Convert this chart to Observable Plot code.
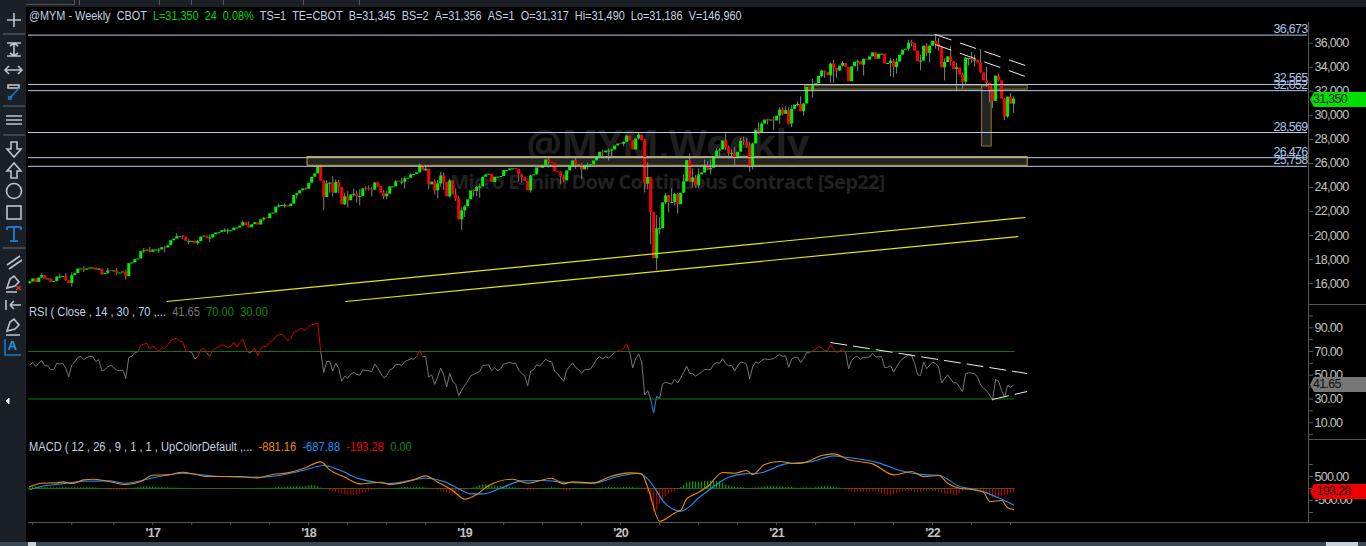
<!DOCTYPE html>
<html><head><meta charset="utf-8">
<script src="https://cdn.jsdelivr.net/npm/d3@7"></script>
<script src="https://cdn.jsdelivr.net/npm/@observablehq/plot@0.6"></script>
<style>
html,body{margin:0;padding:0;background:#000;width:1366px;height:546px;overflow:hidden}
body{position:relative;font-family:"Liberation Sans",sans-serif;font-size:12.5px}
.panel{position:absolute;left:0}
.panel svg{display:block;background:transparent!important}
.legend{position:absolute;left:29px;white-space:nowrap;display:flex;gap:7px;color:#c5d3e2;line-height:14px;transform-origin:left center;transform:scaleX(.888)}
.tag{position:absolute;left:1310px;width:56px;height:15px;line-height:15px;text-align:left;padding-left:3px;box-sizing:border-box;color:#111;letter-spacing:-.7px;clip-path:polygon(0 50%,4px 0,100% 0,100% 100%,4px 100%)}
.bar{position:absolute}
</style></head><body>
<div class="bar" style="left:0;top:0;width:1366px;height:7px;background:#1b2027"></div>
<div class="bar" style="left:4px;top:0;width:69px;height:4px;border:solid #555;border-width:0 1px 1px 1px"></div>
<div class="bar" style="left:79px;top:0;width:1px;height:5px;background:#555"></div>
<div class="bar" style="left:159px;top:0;width:1px;height:5px;background:#555"></div>
<div class="bar" style="left:191px;top:0;width:1px;height:5px;background:#555"></div>
<div class="bar" style="left:223px;top:0;width:1px;height:5px;background:#555"></div>
<div class="bar" style="left:303px;top:0;width:1px;height:5px;background:#555"></div>
<div class="bar" style="left:359px;top:0;width:1px;height:5px;background:#555"></div>
<div class="bar" style="left:0;top:0;width:26px;height:546px;background:#1b2027"></div>
<svg class="bar" style="left:0;top:0" width="26" height="420" fill="none" stroke="#bcc4cc" stroke-width="1.6">
<path d="M14 13V27M7 20H21"/><path d="M3 34H25" stroke="#4a525a"/>
<path d="M14 44V55M10 46L14 43L18 46M10 53L14 56L18 53M7 43H21M7 56H21"/>
<path d="M6 70H21M9 66L5 70L9 74M18 66L22 70L18 74"/>
<rect x="8" y="85" width="11" height="3"/><path d="M19 88L10 98" stroke="#1b79c4"/><circle cx="10" cy="98" r="1.5" stroke="#1b79c4"/>
<path d="M3 106H25M3 135H25" stroke="#4a525a"/><path d="M6 116H22M6 120H22M6 124H22"/>
<path d="M11 142H17V149H21L14 157L7 149H11Z"/><path d="M11 178H17V171H21L14 163L7 171H11Z"/>
<circle cx="14" cy="191" r="7.5"/><rect x="7" y="206" width="14" height="13"/>
<path d="M7 227H21M14 227V241M10 241H18M7 227V230M21 227V230" stroke="#1b79c4" stroke-width="2"/>
<path d="M3 248H25" stroke="#4a525a"/><path d="M7 265L20 256M9 269L22 260"/>
<path d="M7 288L10 279L14 276L19 282L15 286ZM6 292H17"/><path d="M16 286L21 290M21 286L16 290" stroke="#e03030"/>
<path d="M6 300V310M10 305H21M10 305L14 301M10 305L14 309"/>
<path d="M7 331L10 322L14 319L19 325L15 329ZM6 335H20"/>
<path d="M5 339V355H21" stroke="#1b79c4"/>
<path d="M6 401L9 398V404Z" fill="#fff" stroke="#fff" stroke-width="1"/>
</svg>
<div class="bar" style="left:5px;top:338px;width:15px;height:16px;color:#1b9be0;font-weight:bold;font-size:13px;line-height:16px;text-align:center">A</div>
<div class="bar" style="left:0;top:542px;width:1366px;height:4px;background:#3a4652"></div>
<div class="bar" style="left:28px;top:542px;width:8px;height:4px;background:#c8d0d8"></div>
<div class="bar" style="left:1326px;top:542px;width:32px;height:4px;background:#c8d0d8"></div>

<div id="price" class="panel" style="top:22px"></div>
<div id="rsi" class="panel" style="top:304px"></div>
<div id="macd" class="panel" style="top:439px"></div>

<div class="bar" style="left:1308px;top:304px;width:58px;height:1px;background:#555"></div>
<div class="bar" style="left:1308px;top:439px;width:58px;height:1px;background:#555"></div>
<div class="bar" style="left:1308px;top:522px;width:58px;height:1px;background:#555"></div>

<div class="legend" style="top:9px;transform:scaleX(.87)">
<span>@MYM - Weekly</span><span>CBOT</span><span style="color:#00d800">L=31,350</span><span style="color:#00d800">24</span><span style="color:#00d800">0.08%</span><span>TS=1</span><span>TE=CBOT</span><span>B=31,345</span><span>BS=2</span><span>A=31,356</span><span>AS=1</span><span>O=31,317</span><span>Hi=31,490</span><span>Lo=31,186</span><span>V=146,960</span>
</div>
<div class="legend" style="top:305px">
<span>RSI ( Close , 14 , 30 , 70 ,...</span><span style="color:#777">41.65</span><span style="color:#0a8a0a">70.00</span><span style="color:#0a8a0a">30.00</span>
</div>
<div class="legend" style="top:440px">
<span>MACD ( 12 , 26 , 9 , 1 , 1 , UpColorDefault ,...</span><span style="color:#f08a00">-881.16</span><span style="color:#1e90ff">-687.88</span><span style="color:#f00000">-193.28</span><span style="color:#0a8a0a">0.00</span>
</div>
<div class="tag" style="top:92px;background:#00e000">31,350</div>
<div class="tag" style="top:377px;background:#777">41.65</div>
<div class="tag" style="top:484px;background:#f00000">-193.28</div>

<script>
const closes = [
16140,16387,16083,16470,16664,16360,16387,16083,16166,16553,16553,16580,16249,16000,16664,16830,17217,17217,17106,17217,17300,17300,17106,17217,16747,16857,17051,17023,17051,16857,16885,16968,16580,17660,17715,17992,18047,18656,18739,18794,18600,18794,18794,18794,18988,18960,19154,19569,19707,19901,19901,19874,19514,19514,19514,19320,19486,19874,19956,19735,19790,20067,20205,20233,20399,20399,20399,20399,20620,20620,20786,21063,20814,20648,20897,21063,20870,
21308,21419,21391,21806,21862,22360,22470,22498,22498,22387,22609,23328,23466,23715,23881,23854,24352,24850,25127,25708,24518,23162,24297,24352,23522,24407,23992,22553,23217,22885,23383,23439,23217,23245,23881,23854,23826,23771,24380,24075,23522,23217,23439,24048,24048,24463,24435,24435,24712,24767,25044,25071,25210,25846,25376,25514,24213,24435,23715,24297,24961,24407,23217,24546,23383,23051,21308,22055,22387,22968,23715,23660,23992,24048,24850,25044,
25099,24407,24850,24850,24905,25403,25403,25541,25541,25486,25043,24822,24490,23715,24960,25043,25625,25597,25818,26289,26095,26012,25320,25237,24850,24545,25376,25735,26206,25874,25874,25459,25818,25818,25874,26206,26565,26925,26870,27036,27036,27119,27451,27617,27589,27755,28281,27894,27119,28032,28364,27894,24269,24822,21917,18071,20561,20561,22719,23300,22747,22747,23411,22553,23522,24462,26233,24435,24794,24130,25043,25210,25791,25459,25597,26510,27036,
27118,27865,27312,26786,26841,26399,26924,27838,27727,27450,25735,27616,28751,28502,29276,29608,29553,29608,29525,29940,30438,30079,30383,29276,30494,30853,30909,30300,30936,32320,32016,32486,32624,33233,33676,33565,33289,34257,33897,33676,34091,34312,33980,32790,
34035,34423,34450,34174,34644,34589,34865,35197,34672,35087,35087,34257,34312,34506,33980,34423,35004,35419,35502,36000,35972,35336,34450,34506,35751,35142,35751,36166,35917,35696,33952,34395,34865,34450,33814,33952,33344,32763,34727,34727,34589,34589,34340,33537,32873,32652,32043,31158,33261,32873,31351,29857,31517,30936,31350];

const wickBars =  [0,4,10,12,14,18,24,26,29,32,38,40,43,45,49,51,53,56,60,65,66,71,73,78,83,85,89,92,97,98,99,100,101,102,103,105,106,108,109,110,112,113,114,116,118,119,122,124,125,127,130,132,133,135,136,137,138,140,142,143,144,145,148,149,150,163,164,167,173,177,178,182,184,186,191,193,194,198,203,205,206,207,208,209,210,212,213,214,215,216,218,220,221,222,223,225,226,227,229,230,232,233,234,235,237,238,239,240,241,243,244,246,248,250,251,252,253,254,256,257,258,261,264,265,267,268,269,271,276,278,287,288,289,293,294,297,299,300,302,303,305,307,309,311,312,313,314,315,317,319,320,321,323,325,326,327,328];
const wickHighs = [16200,16830,16800,16830,16900,17440,17160,17245,17245,17100,18930,19000,18950,19050,20150,19985,19650,19600,20050,20565,20550,21200,21140,21500,22610,22640,23500,23960,25850,24600,24570,24400,24900,24630,24575,23520,23660,23855,23690,23800,24075,24130,24000,24440,23740,23700,24570,24770,24900,25180,25957,25820,25500,24680,24600,25265,25180,24680,23880,23200,22300,22500,23800,24075,24300,25043,25100,25043,26427,25300,25000,26400,26000,26010,27119,27200,27175,27810,28500,28000,26012,24400,21900,21670,21500,23520,23330,23881,23500,23520,25043,26787,25541,25000,25541,26289,26150,26289,27257,27256,28446,27450,27118,27340,28086,28170,28059,27700,27700,29387,29387,29691,29885,30632,30632,30715,30632,30800,31130,31545,31000,33000,33759,33676,34350,34589,33900,34450,34600,34700,34727,34650,34727,36250,36250,35000,35972,35800,36673,36387,34700,35696,34300,33500,34800,34727,35225,35000,35474,33980,32600,32000,33427,31400,31500,31822,31544];
const wickLows =  [15945,16400,16400,16200,15700,16910,16660,16750,16660,16280,18500,18545,18490,18545,19800,19650,19210,19210,19400,20250,20070,20800,20620,21170,22300,22250,23020,23740,25000,22055,23217,23520,23220,23470,23500,22500,22300,23190,22690,22470,23700,23700,23217,24000,22970,22970,24075,24213,23880,25000,25200,25320,23800,23380,23050,24000,23740,23100,22830,21300,20420,21500,23190,23245,23100,24435,24350,23520,25597,24213,24400,25500,24630,25460,26427,26206,26427,27395,27920,23522,23800,19230,18071,17075,20063,22553,21861,22690,22470,21780,23500,24400,23937,23937,23937,25182,25400,25043,27000,26565,27063,26371,26565,25735,27500,27500,27256,25264,25458,28400,28700,29193,28723,29249,29940,30300,29200,28972,30700,30300,29940,31462,33122,33067,32652,32652,33067,34000,33620,33260,33205,33150,33427,35300,35700,33700,34900,34367,35500,35336,32873,34100,31960,32154,32500,34100,34312,34030,33500,32320,31047,30576,32800,29553,29746,30900,30161];

const rsiValues = [
58.7,60.9,57.2,60.4,62.3,58.1,57.8,54.7,54.7,60.1,59.5,60.1,55.8,48.7,58.7,61.2,64.9,66,63.2,64.9,66,65.7,61.5,63.2,53.8,54.7,57.2,58.4,56.4,54.1,54.1,54.4,47.3,64.9,66,69.1,69.7,75.1,76.2,76.8,72.3,74.5,72.8,70,73.1,72.6,75.7,79.1,80.5,81.3,78.5,78.2,70.3,70,69.4,63.8,65.7,71.4,72.8,68.9,66,71.1,72.8,74,75.4,75.4,73.4,74.3,77.9,73.7,77.7,80.5,73.4,68.6,70,72.8,66.6,72.8,74.3,74.3,78.2,79.1,82.5,83.9,84.8,82.2,79.1,80.8,86.2,87,89,89,87.9,90.7,92.7,93,93.8,70,52.4,61.5,61.8,53.5,60.1,55.8,45,49.3,47.6,51,52.4,50.7,50.1,54.4,54.1,53.8,53,59.5,55.8,51.6,47.9,49.6,54.4,55.8,58.9,59.2,58.1,61.5,62.6,63.8,63.5,65.7,70.9,65.7,65.7,48.4,50.4,42.2,48.7,56.1,50.1,40.2,51.6,45,42.2,32.6,37.4,41.6,45,49.6,50.7,52.1,53.3,58.1,58.4,58.7,53.8,56.4,53.8,55.8,59.5,60.1,60.9,60.1,60.1,54.4,51.6,49.6,41.1,
53.5,54.7,58.9,57.8,60.6,63.5,61.8,61.5,53.3,51.3,47.9,45,54.1,57.8,60.4,56.4,54.7,51.8,54.7,54.7,55.5,59.2,63.5,65.7,63.8,65.5,64.6,66.9,69.1,70.6,70.3,72.6,76.5,69.7,56.1,64,68,61.2,33.4,37.1,30,18.1,32.3,30.6,42.8,44.2,43.3,42.5,46.7,43.6,47.6,52.1,57.8,51.6,51.3,49.3,51,52.7,55,54.7,54.7,59.2,60.6,60.1,64,60.1,57.8,58.4,53.5,57.8,61.2,60.6,58.9,47,57,61.2,60.1,62.6,63.8,63.2,63.5,64,66,67.4,66,66.3,56.7,63.5,65.2,65.2,60.6,64,69.1,68.9,70.6,72,74.3,73.1,70.9,70.9,75.7,72,69.1,70.3,71.7,69.7,55.5,62.6,65.2,65.7,63.5,65.2,65.2,65.2,68.6,65.5,65.5,65.7,56.4,56.7,58.1,52.7,57,61.2,64,65.5,67.4,66.9,59.8,50.4,49.9,61.2,55.5,58.4,61.2,59.8,57,43.6,47,50.4,47,43.6,43.6,39.9,36.2,51.3,52.1,51.8,51.3,48.4,41.9,39,37.1,33.4,28.9,46.5,45,37.1,31.4,41.3,39.9,41.65];

const macdBars = [0,4,9,11,14,18,21,26,32,37,41,46,51,55,59,70,76,81,86,91,97,100,105,110,117,120,128,132,136,141,145,149,153,161,166,174,178,181,188,193,200,204,206,210,216,217,219,222,226,231,235,239,241,245,250,255,258,264,268,273,281,288,294,298,303,306,310,314,318,320,324,326,328];
const macdValues = [83,221,235,277,208,360,388,305,166,291,555,569,680,596,499,499,444,583,652,819,1110,777,471,193,263,166,360,527,263,-84,-445,-251,124,388,221,430,193,277,235,471,652,610,55,-1362,-960,-918,-431,-223,83,666,638,749,582,999,1124,1041,1069,1374,1444,1194,1027,569,708,499,541,221,13,-43,-154,-543,-501,-806,-881.16];
const signalBars = [0,4,9,18,26,32,42,51,62,77,83,91,98,103,110,116,120,132,138,142,147,151,157,164,171,178,188,196,203,206,212,217,224,233,238,243,252,261,268,272,283,290,299,303,310,315,319,323,328];
const signalValues = [-56,96,166,305,319,221,471,638,513,471,541,749,957,777,402,249,207,430,291,55,-223,-223,13,319,333,263,221,499,638,402,-640,-945,-293,471,610,638,1027,1124,1360,1305,1069,749,569,555,83,-43,-182,-390,-687.88];
const histValues = [
80,70,60,50,40,40,30,30,30,30,30,40,40,30,30,30,30,30,30,40,40,30,20,10,
-30,-50,-70,-80,-80,-90,-90,-90,-80,-50,
10,30,50,60,70,80,70,60,
50,40,40,30,30,20,20,10,10,5,
-20,-30,-40,-50,-60,-50,-50,-40,-40,-30,-30,-30,-20,-20,-20,-10,-20,-20,-30,-20,-10,-5,
5,5,10,10,5,5,5,
10,40,60,50,50,60,70,80,70,60,60,90,110,130,120,80,20,
-30,-60,-100,-130,-170,-200,-240,-270,-300,-300,-290,-270,-240,-200,-160,-120,-90,-70,
-50,-40,-30,-50,-60,-30,
10,20,30,40,40,30,30,40,50,40,20,10,
-20,-50,-80,-130,-160,-190,-210,-220,-200,-180,-150,-110,-60,-20,
30,70,120,160,150,130,110,100,90,80,70,50,40,30,20,10,
-30,-70,-100,-110,-90,-60,-30,-10,
10,20,30,20,10,
-60,-110,-130,-100,-60,-20,
10,5,-30,-60,-60,-40,-20,
10,20,30,40,40,40,30,30,40,50,40,30,20,20,10,
-60,-200,-550,-970,-900,-640,-480,-350,-250,-180,-120,-60,
40,120,230,260,280,270,260,270,290,300,310,300,280,280,220,140,100,
70,50,40,30,20,-10,-40,-20,
20,30,40,60,80,90,80,70,60,60,50,50,40,20,-5,-10,20,
30,20,-20,30,50,70,80,80,70,60,40,20,
-40,-70,-110,-150,-170,-160,-150,-150,-150,-170,-130,-150,-170,-220,-260,-280,-290,-250,-210,-170,-140,-120,-100,-120,-160,-170,-160,-130,-100,-100,-110,-120,
-150,-200,-230,-250,-270,-290,-300,-210,-120,-60,-40,-30,-60,-100,-150,-210,-260,-320,-380,-400,-390,-340,-300,-280,-240,-193.28];

const priceLevels = [36673,32565,32052,28569,26476,25758];
const priceLevelLabels = ["36,673","32,565","32,052","28,569","26,476","25,758"];
const priceTicks = [36000,34000,32000,30000,28000,26000,24000,22000,20000,18000,16000];
const rsiTicks = [100,90,80,70,60,50,40,30,20,10,0];
const rsiLabelled = [90,70,50,30,10];
const macdTicks = [1000,500,0,-500,-1000];
const macdLabelled = [500,-500];
const monthTickBars = [1,14,28,41,54,67,80,93,106,119,132,145,158,171,184,197,210,223,236,249,262,275,288,301,314,327];
const yearTickBars = [41,93,145,197,249,301];
const yearLabels = ["'17","'18","'19","'20","'21","'22"];
const goldZone = [{a:92.6,b:332.7,hi:26530,lo:25800}];
const dimZones = [
  {a:258.5,b:332.7,hi:32465,lo:32135},
  {a:317.5,b:320.7,hi:32400,lo:27400}];
const yellowLines = [
  {a:45.6,b:331.9,from:14510,to:21498},
  {a:105.2,b:329.6,from:14510,to:19918}];
const priceDashes = [
  {a:301.9,b:332.9,from:36726,to:34061},
  {a:301.9,b:332.9,from:35892,to:33146}];
const rsiDashes = [
  {a:266.9,b:332.5,from:77.6,to:51.5},
  {a:320.9,b:332.5,from:29.6,to:36.3}];

const WIDTH = 1366, ML = 28, MR = 58;
const xDomain = [-0.433, 426.33];
const font = '"Liberation Sans",sans-serif';
const axisFill = "#c2c2c2", axisLine = "#555";
const base = {width:WIDTH, marginLeft:ML, marginRight:MR, marginTop:0,
  style:{background:"transparent",fontFamily:font,fontSize:"12.5px",color:axisFill,letterSpacing:"-.7px"},
  x:{type:"linear",domain:xDomain,axis:null}};
const yAxisOpts = {anchor:"right",tickSize:4,tickPadding:2,stroke:axisLine,fill:axisFill,label:null};

const bars = closes.map((c,i)=>{
  const o = i ? closes[i-1] : 16000, up = c>=o;
  const gap = Math.abs(c-o);
  return {i, o: gap<85 ? (up? c-85 : c+85) : o, c, up};
});
const wicks = wickBars.map((b,k)=>({i:b,h:wickHighs[k],l:wickLows[k]}));
const levels = priceLevels.map((v,k)=>({v,t:priceLevelLabels[k]}));

document.getElementById("price").append(Plot.plot({...base,height:282,marginBottom:0,
  y:{domain:[14260,37722],range:[282,0],axis:null},
  marks:[
    Plot.text(["@MYM,Weekly"],{x:()=>212.6,y:()=>27490,text:d=>d,fill:"#1f1f1f",fontSize:39.5,fontWeight:"bold",fontFamily:"Open Sans"}),
    Plot.text(["Micro E-mini Dow Continuous Contract [Sep22]"],{x:()=>212.6,y:()=>24400,text:d=>d,fill:"#222",fontSize:20.1,fontWeight:"bold",fontFamily:"Open Sans"}),
    Plot.rect(goldZone,{x1:"a",x2:"b",y1:"lo",y2:"hi",fill:"#232323",stroke:"#c9a227",strokeWidth:1}),
    Plot.rect(dimZones,{x1:"a",x2:"b",y1:"lo",y2:"hi",fill:"#242424",stroke:"#8f7a2a",strokeWidth:1}),
    Plot.ruleX(wicks,{x:"i",y1:"l",y2:"h",stroke:"#808080",strokeWidth:1}),
    Plot.ruleX(bars,{x:"i",y1:"o",y2:"c",stroke:d=>d.up?"#00f000":"#ff0000",strokeWidth:3}),
    Plot.ruleY(levels,{y:"v",x1:xDomain[0],x2:426,stroke:"#b5cbe8",strokeWidth:1}),
    Plot.text(levels,{x:()=>426,y:"v",text:"t",dy:-6,textAnchor:"end",fill:"#a9c4e8",fontSize:12.5}),
    Plot.link(yellowLines,{x1:"a",x2:"b",y1:"from",y2:"to",stroke:"#e8e800",strokeWidth:1.2,clip:true}),
    Plot.link(priceDashes,{x1:"a",x2:"b",y1:"from",y2:"to",stroke:"#ececec",strokeWidth:1,strokeDasharray:"17,9"}),
    Plot.ruleX([xDomain[1]],{stroke:axisLine}),
    Plot.axisY(priceTicks,{...yAxisOpts,tickFormat:d=>d3.format(",")(d)})
  ]}));

const rsiSegs = rsiValues.slice(1).map((v,k)=>({a:k,b:k+1,p:rsiValues[k],v,
  col:(v>70||rsiValues[k]>70)?"#e00000":(v<28||rsiValues[k]<28)&&k<260?"#1e88e5":"#777"}));
document.getElementById("rsi").append(Plot.plot({...base,height:135,marginBottom:0,
  y:{domain:[-4.1,109.6],range:[135,0],axis:null},
  marks:[
    Plot.ruleY([70,30],{x1:xDomain[0],x2:328.5,stroke:"#0a7a0a",strokeWidth:1}),
    Plot.link(rsiSegs,{x1:"a",x2:"b",y1:"p",y2:"v",stroke:"col",strokeWidth:1}),
    Plot.link(rsiDashes,{x1:"a",x2:"b",y1:"from",y2:"to",stroke:"#ececec",strokeWidth:1,strokeDasharray:"17,6"}),
    Plot.ruleX([xDomain[1]],{stroke:axisLine}),
    Plot.axisY(rsiTicks,{...yAxisOpts,tickFormat:d=>rsiLabelled.includes(d)?d.toFixed(2):""})
  ]}));

const hist = histValues.map((v,i)=>({i,v}));
const xTickLabel = d=>{const k=yearTickBars.indexOf(d);return k<0?"":yearLabels[k];};
document.getElementById("macd").append(Plot.plot({...base,height:107,marginBottom:24,
  y:{domain:[-1417,2042],range:[83,0],axis:null},
  marks:[
    Plot.ruleY([0],{x1:xDomain[0],x2:328.5,stroke:"#0a7a0a",strokeWidth:1}),
    Plot.ruleX(hist,{x:"i",y1:()=>0,y2:"v",stroke:d=>d.v>=0?"#00f000":"#ff0000",strokeWidth:.8}),
    Plot.line(signalValues.map((v,k)=>({i:signalBars[k],v})),{x:"i",y:"v",stroke:"#1e90ff",strokeWidth:1.1,curve:"monotone-x"}),
    Plot.line(macdValues.map((v,k)=>({i:macdBars[k],v})),{x:"i",y:"v",stroke:"#f08a00",strokeWidth:1.1,curve:"monotone-x"}),
    Plot.ruleX([xDomain[1]],{stroke:axisLine}),
    Plot.ruleY([-1417],{stroke:axisLine}),
    Plot.axisY(macdTicks,{...yAxisOpts,tickFormat:d=>macdLabelled.includes(d)?d.toFixed(2):""}),
    Plot.axisX(monthTickBars,{anchor:"bottom",tickSize:3,tickPadding:3,stroke:axisLine,fill:axisFill,fontWeight:"bold",label:null,tickFormat:xTickLabel})
  ]}));
</script>
</body></html>
